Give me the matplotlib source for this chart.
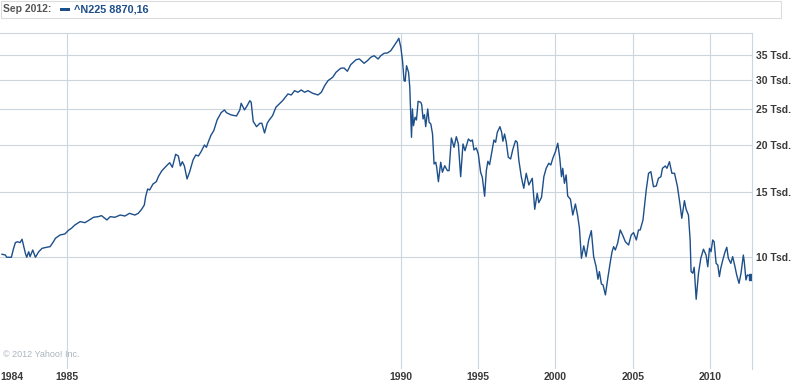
import numpy as np
import matplotlib.pyplot as plt
from matplotlib.patches import Rectangle
from matplotlib.ticker import FixedLocator, NullLocator

# Nikkei 225, monthly-ish closes (decimal year, index in thousands)
years = [
    1984.03, 1984.08, 1984.10, 1984.17, 1984.20, 1984.23, 1984.26, 1984.30, 1984.33, 1984.35,
    1984.38, 1984.40, 1984.43, 1984.45, 1984.49, 1984.53, 1984.58, 1984.63, 1984.70, 1984.75,
    1984.80, 1984.83, 1984.90, 1984.97, 1985.03, 1985.07, 1985.12, 1985.20, 1985.27, 1985.32,
    1985.40, 1985.47, 1985.52, 1985.60, 1985.65, 1985.72, 1985.80, 1985.87, 1985.94, 1985.97,
    1986.02, 1986.07, 1986.12, 1986.16, 1986.18, 1986.21, 1986.24, 1986.29, 1986.34, 1986.37,
    1986.42, 1986.49, 1986.54, 1986.58, 1986.63, 1986.67, 1986.70, 1986.73, 1986.76, 1986.80,
    1986.84, 1986.89, 1986.93, 1986.97, 1987.01, 1987.06, 1987.09, 1987.12, 1987.16, 1987.20,
    1987.25, 1987.31, 1987.36, 1987.39, 1987.46, 1987.54, 1987.59, 1987.61, 1987.66, 1987.70,
    1987.74, 1987.76, 1987.79, 1987.84, 1987.89, 1987.92, 1987.96, 1988.00, 1988.03, 1988.08,
    1988.13, 1988.18, 1988.23, 1988.31, 1988.36, 1988.41, 1988.46, 1988.51, 1988.56, 1988.61,
    1988.68, 1988.76, 1988.81, 1988.86, 1988.91, 1988.98, 1989.03, 1989.10, 1989.15, 1989.20,
    1989.25, 1989.33, 1989.38, 1989.45, 1989.50, 1989.55, 1989.60, 1989.66, 1989.70, 1989.75,
    1989.80, 1989.85, 1989.90, 1989.95, 1989.97,
    1990.00, 1990.11, 1990.21, 1990.28, 1990.37, 1990.50, 1990.58, 1990.69, 1990.75, 1990.82,
    1990.92, 1991.01, 1991.12, 1991.29, 1991.35, 1991.44, 1991.53, 1991.61, 1991.74, 1991.83,
    1991.94, 1992.05, 1992.15, 1992.26, 1992.32, 1992.43, 1992.58, 1992.69, 1992.84, 1993.01,
    1993.12, 1993.27, 1993.44, 1993.59, 1993.72, 1993.87, 1994.02, 1994.15, 1994.37, 1994.52,
    1994.63, 1994.73, 1994.88, 1995.01, 1995.16, 1995.27, 1995.42, 1995.53, 1995.63, 1995.74,
    1995.92, 1996.02, 1996.13, 1996.24, 1996.41, 1996.52, 1996.60, 1996.71, 1996.82, 1996.95,
    1997.10, 1997.25, 1997.42, 1997.53, 1997.63, 1997.79, 1997.95, 1998.11, 1998.28, 1998.50,
    1998.66, 1998.82, 1998.92, 1999.10, 1999.25, 1999.40, 1999.57, 1999.70, 1999.83, 2000.00,
    2000.15, 2000.28, 2000.39, 2000.47, 2000.58, 2000.69, 2000.79, 2000.97, 2001.12, 2001.29,
    2001.44, 2001.55, 2001.68, 2001.83, 2001.98, 2002.15, 2002.32, 2002.47, 2002.63, 2002.75,
    2002.84, 2002.97, 2003.08, 2003.23, 2003.40, 2003.55, 2003.66, 2003.76, 2003.87, 2004.02,
    2004.19, 2004.34, 2004.52, 2004.73, 2004.90, 2005.05, 2005.23, 2005.37, 2005.48, 2005.66,
    2005.74, 2005.87, 2006.02, 2006.17, 2006.34, 2006.52, 2006.66, 2006.82, 2006.92, 2007.10,
    2007.21, 2007.37, 2007.53, 2007.70, 2007.89, 2008.06, 2008.17, 2008.34, 2008.45, 2008.60,
    2008.71, 2008.77, 2008.88, 2008.97, 2009.10, 2009.25, 2009.40, 2009.57, 2009.74, 2009.85,
    2009.96, 2010.06, 2010.17, 2010.26, 2010.39, 2010.50, 2010.60, 2010.69, 2010.82, 2010.97,
    2011.08, 2011.18, 2011.34, 2011.46, 2011.61, 2011.72, 2011.87, 2012.00, 2012.15, 2012.21,
    2012.32, 2012.41, 2012.58, 2012.71,
]
values = [
    10.19, 10.14, 10.00, 10.00, 10.51, 10.95, 11.01, 10.95, 11.18, 10.79,
    10.25, 10.00, 10.35, 10.04, 10.46, 10.00, 10.35, 10.57, 10.64, 10.68,
    11.01, 11.25, 11.48, 11.55, 11.84, 11.97, 12.21, 12.47, 12.39, 12.54,
    12.81, 12.86, 12.94, 12.60, 12.86, 12.81, 12.99, 12.91, 13.13, 13.07,
    12.99, 13.13, 13.46, 13.82, 14.55, 15.26, 15.17, 15.74, 15.97, 16.47,
    17.06, 17.60, 17.96, 17.46, 18.92, 18.72, 17.60, 18.07, 17.60, 16.24,
    16.99, 18.27, 18.84, 18.72, 19.23, 20.04, 19.76, 20.46, 21.33, 21.90,
    23.40, 24.48, 24.90, 24.48, 24.14, 23.99, 24.90, 25.95, 24.90, 25.57,
    26.37, 26.11, 23.21, 22.45, 22.93, 22.93, 21.59, 22.93, 23.40, 24.03,
    25.32, 25.84, 26.37, 27.49, 27.32, 28.06, 27.78, 28.18, 27.78, 28.06,
    27.61, 27.32, 27.78, 28.94, 29.85, 30.48, 31.44, 32.23, 32.29, 31.64,
    32.96, 33.99, 34.14, 33.24, 33.78, 34.50, 34.84, 34.14, 34.84, 35.37,
    35.43, 35.94, 37.07, 38.24, 38.81,
    36.71, 33.78, 29.85, 29.74, 32.75, 31.44, 28.65, 21.02, 25.05, 22.59,
    23.80, 23.40, 26.27, 26.11, 25.73, 23.55, 24.18, 22.45, 25.05, 23.07,
    22.83, 21.46, 17.82, 18.01, 17.46, 15.97, 18.01, 16.93, 17.63, 17.10,
    17.10, 20.93, 19.76, 21.10, 20.17, 16.47, 20.17, 19.35, 20.80, 20.51,
    20.68, 19.43, 19.68, 18.96, 16.93, 16.41, 14.59, 17.10, 18.12, 17.74,
    19.55, 20.67, 20.38, 21.68, 22.45, 21.68, 20.51, 21.46, 20.38, 18.58,
    18.38, 19.55, 20.59, 20.38, 18.27, 16.47, 15.33, 16.82, 15.65, 16.31,
    13.46, 14.86, 14.02, 14.50, 16.47, 17.35, 17.90, 17.71, 18.46, 19.23,
    20.26, 18.46, 16.47, 17.35, 15.81, 16.65, 14.62, 14.32, 12.99, 13.91,
    12.91, 11.97, 9.94, 10.73, 10.04, 11.13, 11.79, 10.04, 9.43, 8.73,
    9.15, 8.48, 8.42, 7.92, 8.87, 9.73, 10.35, 10.68, 10.46, 10.91,
    11.84, 11.48, 11.01, 10.79, 11.48, 11.65, 11.13, 11.84, 11.84, 12.60,
    13.55, 15.17, 16.82, 16.99, 15.48, 15.55, 16.31, 16.47, 17.35, 17.60,
    17.35, 18.07, 16.82, 16.82, 15.48, 13.82, 12.73, 14.20, 13.46, 12.99,
    11.13, 9.15, 9.06, 9.40, 7.71, 9.06, 9.94, 10.51, 10.14, 9.43,
    10.57, 10.35, 11.13, 11.01, 9.63, 9.53, 8.87, 9.34, 9.83, 10.35,
    10.64, 9.94, 9.63, 10.04, 9.43, 8.96, 8.51, 9.06, 10.14, 9.73,
    8.69, 8.96, 8.90, 8.87,
]

ytick_vals = [10, 15, 20, 25, 30, 35]
ytick_labels = ['10 Tsd.', '15 Tsd.', '20 Tsd.', '25 Tsd.', '30 Tsd.', '35 Tsd.']
xtick_years = [1984, 1985, 1990, 1995, 2000, 2005, 2010]
legend_date = 'Sep 2012:'
legend_label = '^N225 8870,16'

line_color = '#1d4f8a'
grid_color = '#ccd6df'
label_color = '#3a3a3a'
font = 'Liberation Sans'


# Yahoo draws the years before 1990 much wider than the later ones
def fwd(x):
    x = np.asarray(x, dtype=float)
    return np.where(x < 1990, (x - 1990) * 4.32, x - 1990)


def inv(p):
    p = np.asarray(p, dtype=float)
    return np.where(p < 0, p / 4.32 + 1990, p + 1990)


fig = plt.figure(figsize=(7.96, 3.83), dpi=100)
ax = fig.add_axes([0, 1 - 369.2 / 383, 752 / 796, (369.2 - 33.4) / 383])

ax.plot(years, values, color=line_color, lw=1.0, solid_joinstyle='round')
ax.plot(years[-1:], values[-1:], marker='s', ms=5, color=line_color, ls='none')

ax.set_xscale('function', functions=(fwd, inv))
ax.set_yscale('log')
ax.set_xlim(1984.0, 2012.71)
ax.set_ylim(5, 40)

ax.yaxis.set_major_locator(FixedLocator(ytick_vals))
ax.yaxis.set_minor_locator(NullLocator())
ax.set_yticklabels(ytick_labels)
ax.yaxis.tick_right()
ax.xaxis.set_major_locator(FixedLocator(xtick_years))
ax.xaxis.set_minor_locator(NullLocator())
ax.set_xticklabels([str(y) for y in xtick_years])

ax.tick_params(length=0, labelcolor=label_color, labelsize=7.5)
ax.tick_params(axis='y', pad=3)
ax.tick_params(axis='x', pad=2)
for lbl in ax.get_xticklabels() + ax.get_yticklabels():
    lbl.set_fontfamily(font)
    lbl.set_fontweight('bold')
ax.get_xticklabels()[0].set_ha('left')

ax.grid(True, color=grid_color, lw=0.8)
ax.set_axisbelow(True)
# no grid line under the first year label at the left edge
ax.xaxis.get_major_ticks()[0].gridline.set_visible(False)
for side in ['left', 'bottom']:
    ax.spines[side].set_visible(False)
for side in ['top', 'right']:
    ax.spines[side].set_color(grid_color)
    ax.spines[side].set_linewidth(0.8)

ax.text(0.004, 0.035, '\u00a9 2012 Yahoo! Inc.', transform=ax.transAxes,
        fontsize=6.5, color='#aab4be', family=font)

# legend strip on top
fig.patches.append(Rectangle((0.5 / 796, 1 - 17.5 / 383), 780 / 796, 17 / 383,
                             transform=fig.transFigure, fill=False,
                             ec='#dcdcdc', lw=0.8))
fig.text(3 / 796, 1 - 9.5 / 383, legend_date, fontsize=7.5, fontweight='bold',
         color='#555555', family=font, va='center')
fig.patches.append(Rectangle((60 / 796, 1 - 11 / 383), 10 / 796, 3.5 / 383,
                             transform=fig.transFigure, color=line_color, lw=0))
fig.text(74 / 796, 1 - 9.5 / 383, legend_label, fontsize=7.8, fontweight='bold',
         color=line_color, family=font, va='center')

fig.savefig('out.png', dpi=100)
